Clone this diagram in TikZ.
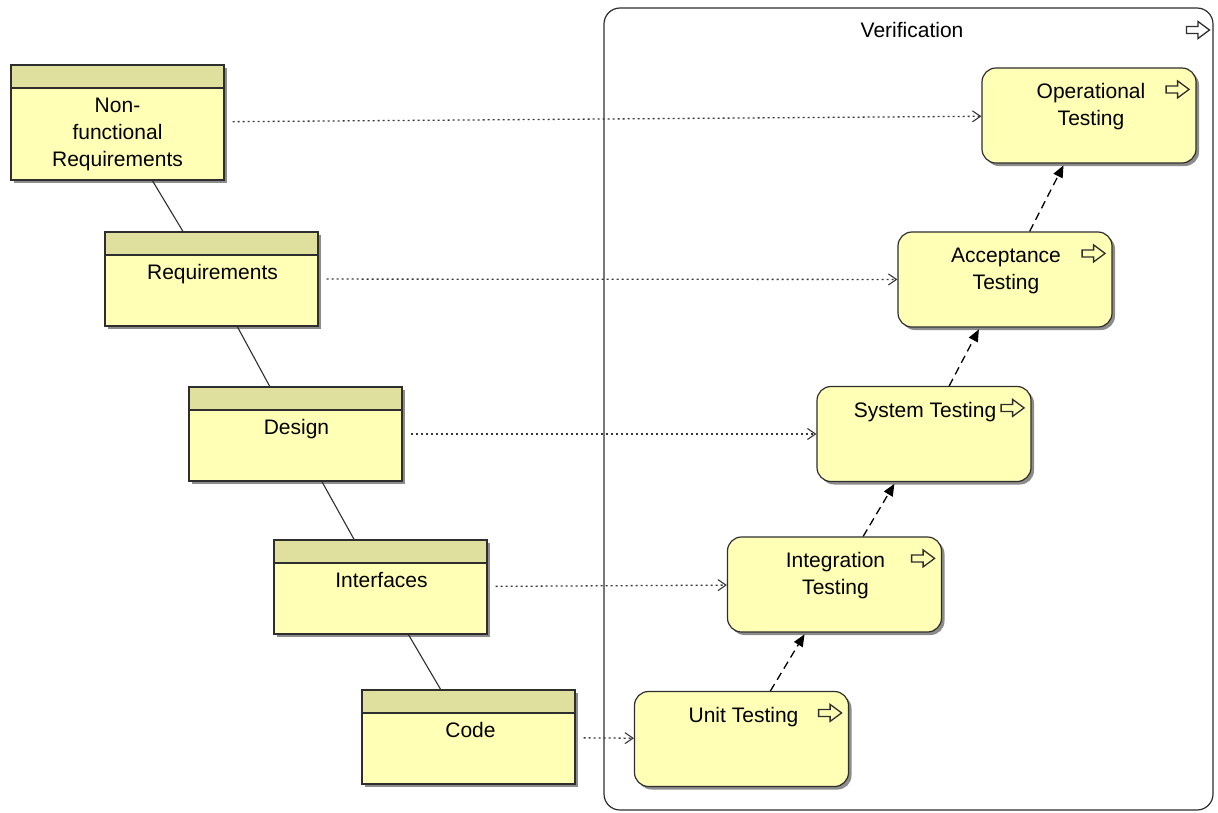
\documentclass[tikz,border=0pt]{standalone}
\usepackage{fontspec}
\setmainfont{Liberation Sans}
\usetikzlibrary{arrows.meta,shadows,calc}
\definecolor{objfill}{HTML}{FFFFB5}
\definecolor{objhead}{HTML}{E0E09E}
\definecolor{edge}{HTML}{2E2E2E}
\definecolor{linkgray}{HTML}{383838}
\begin{document}
\begin{tikzpicture}[x=1pt,y=-1pt,
  every node/.style={font=\fontsize{21}{27}\selectfont},
  boxshadow/.style={drop shadow={shadow xshift=3pt,shadow yshift=-3pt,fill=black,opacity=0.45}},
  dataobj/.style={draw=edge, line width=1.2pt, fill=objfill, boxshadow,
    minimum width=213pt, minimum height=94pt, inner sep=0pt,
    path picture={
      \fill[objhead] (path picture bounding box.north west) rectangle
        ([yshift=-23pt]path picture bounding box.north east);
      \draw[edge,line width=1.2pt] ([yshift=-23pt]path picture bounding box.north west) --
        ([yshift=-23pt]path picture bounding box.north east);}},
  process/.style={draw=edge, line width=1.2pt, fill=objfill, boxshadow, rounded corners=14pt,
    minimum width=214pt, minimum height=95pt, inner sep=0pt},
  group/.style={draw=edge, line width=1.2pt, fill=white, rounded corners=16pt,
    minimum width=609pt, minimum height=802pt, inner sep=0pt},
  label text/.style={anchor=north, align=center, inner sep=0pt, text=black},
  assoc/.style={draw=edge, line width=1.1pt},
  influ/.style={draw=linkgray, line width=1.3pt, dash pattern=on 2pt off 3pt, shorten <=8pt,
    -{Straight Barb[length=8pt,width=11pt,line width=1.1pt]}},
  flow/.style={draw=black, line width=1.3pt, dash pattern=on 8pt off 5pt, shorten >=2pt,
    -{Triangle[length=12pt,width=10pt]}},
  procicon/.pic={\draw[edge, line width=1.3pt, line join=miter]
    (-11.5,-3.5) -- (0,-3.5) -- (0,-8.5) -- (11.5,0) -- (0,8.5) -- (0,3.5) -- (-11.5,3.5) -- cycle;}
]
\useasboundingbox (0,0) rectangle (1218,812);

% grouping frame
\node[group] (verif) at (908.5,409) {};
\node[label text] (veriftitle) at (912,22) {Verification};
\pic at (1198,30) {procicon};

% data objects, left column
\node[dataobj, minimum height=115pt] (nfr) at (117.5,122.5) {};
\node[label text] (nfrtext) at ($(nfr.north)+(0,33)$) {Non-\\functional\\Requirements};
\node[dataobj] (req) at (211.5,279) {};
\node[label text] (reqtext) at ($(req.north)+(1,33)$) {Requirements};
\node[dataobj] (des) at (295.5,434) {};
\node[label text] (destext) at ($(des.north)+(1,33)$) {Design};
\node[dataobj] (itf) at (380.5,587) {};
\node[label text] (itftext) at ($(itf.north)+(1,33)$) {Interfaces};
\node[dataobj] (code) at (468.5,737) {};
\node[label text] (codetext) at ($(code.north)+(2,33)$) {Code};

% processes inside the frame
\node[process] (op) at (1089,115.5) {};
\node[label text] (optext) at ($(op.north)+(2,16)$) {Operational\\Testing};
\pic at ($(op.north east)+(-19,22)$) {procicon};
\node[process] (acc) at (1005,279.5) {};
\node[label text] (acctext) at ($(acc.north)+(1,16)$) {Acceptance\\Testing};
\pic at ($(acc.north east)+(-19,22)$) {procicon};
\node[process] (sys) at (924,434) {};
\node[label text] (systext) at ($(sys.north)+(1,16)$) {System Testing};
\pic at ($(sys.north east)+(-19,22)$) {procicon};
\node[process] (int) at (834.5,584.5) {};
\node[label text] (inttext) at ($(int.north)+(1,16)$) {Integration\\Testing};
\pic at ($(int.north east)+(-19,22)$) {procicon};
\node[process] (unit) at (741.5,739) {};
\node[label text] (unittext) at ($(unit.north)+(2,16)$) {Unit Testing};
\pic at ($(unit.north east)+(-19,22)$) {procicon};

% associations between data objects
\draw[assoc] (nfr) -- (req);
\draw[assoc] (req) -- (des);
\draw[assoc] (des) -- (itf);
\draw[assoc] (itf) -- (code);

% influence links
\draw[influ] (nfr) -- (op);
\draw[influ] (req) -- (acc);
\draw[influ] (des) -- (sys);
\draw[influ] (itf) -- (int);
\draw[influ] (code) -- (unit);

% flow between test stages
\draw[flow] (unit) -- (int);
\draw[flow] (int) -- (sys);
\draw[flow] (sys) -- (acc);
\draw[flow] (acc) -- (op);
\end{tikzpicture}
\end{document}
